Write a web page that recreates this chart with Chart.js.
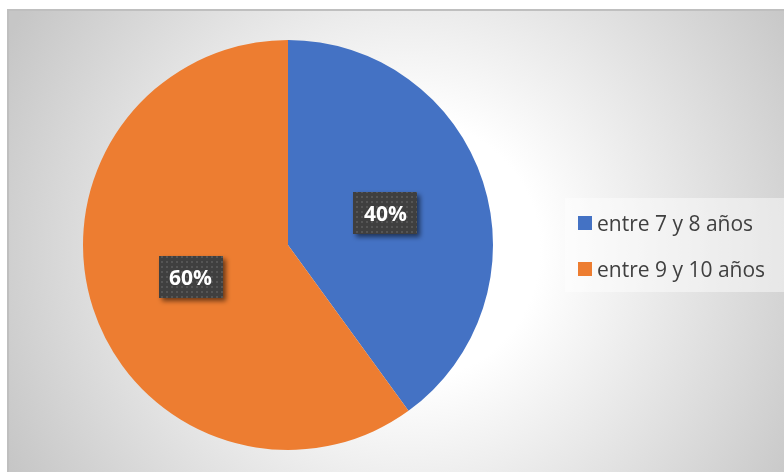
<!DOCTYPE html>
<html>
<head>
<meta charset="utf-8">
<script src="https://cdn.jsdelivr.net/npm/chart.js@4"></script>
<style>
    html, body { margin: 0; padding: 0; background: #ffffff; }
    #myChart { display: block; }
</style>
</head>
<body>
<canvas id="myChart" width="784" height="472"></canvas>
<script>
const labels = ['entre 7 y 8 años', 'entre 9 y 10 años'];
const values = [40, 60];
const colors = ['#4472C4', '#ED7D31'];

// fondo con degradado radial gris y borde arriba/izquierda
const backgroundPlugin = {
    id: 'bgGradient',
    beforeDraw(chart) {
        const ctx = chart.ctx;
        ctx.save();
        ctx.fillStyle = '#ffffff';
        ctx.fillRect(0, 0, chart.width, chart.height);
        let grad = ctx.createRadialGradient(410, 250, 130, 410, 250, 455);
        grad.addColorStop(0, '#ffffff');
        grad.addColorStop(1, '#c6c6c6');
        ctx.fillStyle = grad;
        ctx.fillRect(8, 10, chart.width - 8, chart.height - 10);
        ctx.strokeStyle = '#bfbfbf';
        ctx.lineWidth = 2;
        ctx.beginPath();
        ctx.moveTo(8, chart.height);
        ctx.lineTo(8, 10);
        ctx.lineTo(chart.width, 10);
        ctx.stroke();
        ctx.restore();
    }
};

function makePattern(ctx) {
    const tile = document.createElement('canvas');
    tile.width = 5;
    tile.height = 5;
    const t = tile.getContext('2d');
    t.fillStyle = '#3f3f3f';
    t.fillRect(0, 0, 5, 5);
    t.fillStyle = '#555555';
    t.fillRect(1, 1, 2, 2);
    return ctx.createPattern(tile, 'repeat');
}

// etiquetas de porcentaje en cajas oscuras
const labelPlugin = {
    id: 'pctLabels',
    afterDatasetsDraw(chart) {
        const ctx = chart.ctx;
        const meta = chart.getDatasetMeta(0);
        const total = values.reduce((a, b) => a + b, 0);
        const pattern = makePattern(ctx);
        meta.data.forEach(function (arc, i) {
            const pos = arc.tooltipPosition();
            const w = 64, h = 42;
            ctx.save();
            ctx.shadowColor = 'rgba(0,0,0,0.55)';
            ctx.shadowBlur = 5;
            ctx.shadowOffsetX = 3;
            ctx.shadowOffsetY = 3;
            ctx.fillStyle = pattern;
            ctx.fillRect(Math.round(pos.x - w / 2), Math.round(pos.y - h / 2), w, h);
            ctx.restore();
            ctx.save();
            ctx.fillStyle = '#ffffff';
            ctx.font = 'bold 21px "Open Sans", sans-serif';
            ctx.textAlign = 'center';
            ctx.textBaseline = 'alphabetic';
            ctx.fillText(Math.round(values[i] / total * 100) + '%', pos.x, pos.y + 8);
            ctx.restore();
        });
    }
};

// leyenda a la derecha
const legendPlugin = {
    id: 'sideLegend',
    afterDraw(chart) {
        const ctx = chart.ctx;
        ctx.save();
        ctx.fillStyle = 'rgba(255,255,255,0.45)';
        ctx.fillRect(565, 198, 219, 94);
        ctx.font = '21px "Open Sans", sans-serif';
        ctx.textBaseline = 'alphabetic';
        labels.forEach(function (label, i) {
            let y = 231 + i * 46;
            ctx.fillStyle = colors[i];
            ctx.fillRect(578, y - 15, 14, 14);
            ctx.fillStyle = '#404040';
            ctx.fillText(label, 597, y);
        });
        ctx.restore();
    }
};

const ctx = document.getElementById('myChart').getContext('2d');
const pieChart = new Chart(ctx, {
    type: 'pie',
    data: {
        labels: labels,
        datasets: [{
            data: values,
            backgroundColor: colors,
            borderWidth: 0
        }]
    },
    options: {
        responsive: false,
        animation: false,
        devicePixelRatio: 1,
        layout: {
            padding: { left: 83, right: 291, top: 40, bottom: 22 }
        },
        plugins: {
            legend: { display: false },
            tooltip: { enabled: false }
        }
    },
    plugins: [backgroundPlugin, labelPlugin, legendPlugin]
});
</script>
</body>
</html>
